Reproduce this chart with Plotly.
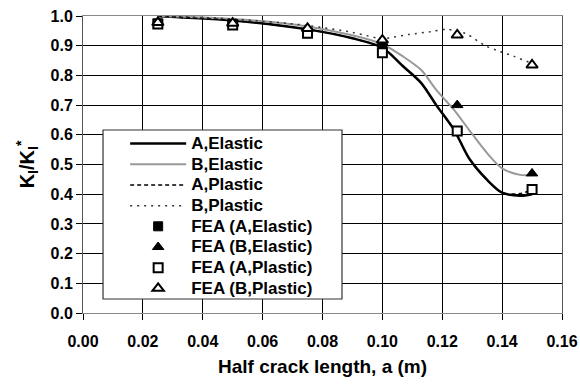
import plotly.graph_objects as go

# Curve data (smoothed model curves)
a_curve = [0.025, 0.05, 0.075, 0.09, 0.10, 0.107, 0.113, 0.118, 0.124, 0.129, 0.135, 0.14, 0.146, 0.15]
k_a_elastic = [0.999, 0.985, 0.955, 0.925, 0.893, 0.83, 0.774, 0.70, 0.616, 0.52, 0.448, 0.405, 0.395, 0.40]
k_b_elastic = [1.0, 0.99, 0.965, 0.935, 0.905, 0.863, 0.818, 0.751, 0.683, 0.616, 0.538, 0.487, 0.465, 0.465]
k_a_plastic = [0.999, 0.985, 0.955, 0.925, 0.893, 0.83, 0.774, 0.70, 0.616, 0.52, 0.448, 0.405, 0.402, 0.415]

a_b_plastic = [0.025, 0.05, 0.075, 0.09, 0.10, 0.1026, 0.109, 0.116, 0.1215, 0.128, 0.134, 0.138, 0.144, 0.15]
k_b_plastic = [1.0, 0.99, 0.968, 0.945, 0.923, 0.927, 0.938, 0.947, 0.955, 0.94, 0.902, 0.885, 0.864, 0.84]

# FEA results
a_fea = [0.025, 0.05, 0.075, 0.10, 0.125, 0.15]
fea_a_elastic = [0.975, 0.973, 0.944, 0.902, 0.613, 0.416]
fea_b_elastic = [0.978, 0.975, 0.958, 0.91, 0.70, 0.47]
fea_a_plastic = [0.973, 0.970, 0.942, 0.876, 0.613, 0.416]
fea_b_plastic = [0.978, 0.976, 0.958, 0.919, 0.936, 0.835]

series_names = ["A,Elastic", "B,Elastic", "A,Plastic", "B,Plastic",
                "FEA (A,Elastic)", "FEA (B,Elastic)", "FEA (A,Plastic)", "FEA (B,Plastic)"]

x_ticks = [0.00, 0.02, 0.04, 0.06, 0.08, 0.10, 0.12, 0.14, 0.16]
y_ticks = [0.0, 0.1, 0.2, 0.3, 0.4, 0.5, 0.6, 0.7, 0.8, 0.9, 1.0]

FONT = "Liberation Sans"


def lg(name):
    return "<span style='font-size:17px'><b>%s</b></span>" % name


fig = go.Figure()
fig.add_trace(go.Scatter(x=a_curve, y=k_a_elastic, mode="lines", name=lg(series_names[0]),
                         line=dict(color="black", width=2.5, shape="spline", smoothing=0.8)))
fig.add_trace(go.Scatter(x=a_curve, y=k_b_elastic, mode="lines", name=lg(series_names[1]),
                         line=dict(color="#999999", width=2, shape="spline", smoothing=0.8)))
fig.add_trace(go.Scatter(x=a_curve, y=k_a_plastic, mode="lines", name=lg(series_names[2]),
                         line=dict(color="black", width=1.5, dash="4px,3px", shape="spline", smoothing=0.8)))
fig.add_trace(go.Scatter(x=a_b_plastic, y=k_b_plastic, mode="lines", name=lg(series_names[3]),
                         line=dict(color="#333333", width=1.5, dash="2px,5px", shape="spline", smoothing=0.8)))

fig.add_trace(go.Scatter(x=a_fea, y=fea_a_elastic, mode="markers", name=lg(series_names[4]),
                         marker=dict(symbol="square", size=9, color="black", line=dict(color="black", width=1))))
fig.add_trace(go.Scatter(x=a_fea, y=fea_b_elastic, mode="markers", name=lg(series_names[5]),
                         marker=dict(symbol="triangle-up", size=10, color="black", line=dict(color="black", width=1))))
fig.add_trace(go.Scatter(x=a_fea, y=fea_a_plastic, mode="markers", name=lg(series_names[6]),
                         marker=dict(symbol="square", size=9, color="white", line=dict(color="black", width=2))))
fig.add_trace(go.Scatter(x=a_fea, y=fea_b_plastic, mode="markers", name=lg(series_names[7]),
                         marker=dict(symbol="triangle-up", size=10, color="white", line=dict(color="black", width=2))))

# legend frame
fig.add_shape(type="rect", xref="paper", yref="paper",
              x0=0.0418, x1=0.5407, y0=0.0471, y1=0.6162,
              line=dict(color="#333333", width=1.2), fillcolor="white", layer="above")

fig.update_layout(
    width=580, height=384,
    margin=dict(l=83, r=18, t=16, b=71),
    paper_bgcolor="white", plot_bgcolor="white",
    font=dict(family=FONT, color="black", size=14),
    showlegend=True,
    legend=dict(x=0.088, y=0.622, xanchor="left", yanchor="top",
                bgcolor="rgba(0,0,0,0)", borderwidth=0,
                font=dict(family=FONT, size=13.6, color="black"),
                itemwidth=56, tracegroupgap=0, traceorder="normal"),
)
fig.update_xaxes(range=[0, 0.16], tickvals=x_ticks, automargin=False,
                 ticktext=["<b>%.2f</b>" % v for v in x_ticks],
                 tickfont=dict(size=16), ticklabelstandoff=8,
                 showgrid=True, gridcolor="black", gridwidth=1,
                 showline=True, linecolor="#888888", linewidth=1, mirror=True,
                 ticks="outside", ticklen=6, tickcolor="black",
                 zeroline=False,
                 title=dict(text="<b>Half crack length, a (m)</b>", font=dict(size=19), standoff=10))
fig.update_yaxes(range=[0, 1.0], tickvals=y_ticks, automargin=False,
                 ticktext=["<b>%.1f</b>" % v for v in y_ticks],
                 tickfont=dict(size=16),
                 showgrid=True, gridcolor="black", gridwidth=1,
                 showline=True, linecolor="#555555", linewidth=1, mirror=True,
                 ticks="outside", ticklen=6, tickcolor="black",
                 zeroline=False,
                 title=dict(text="<b>K<sub>I</sub>/K<sub>I</sub><sup>*</sup></b>", font=dict(size=20), standoff=10))

fig.write_html("out.html")
